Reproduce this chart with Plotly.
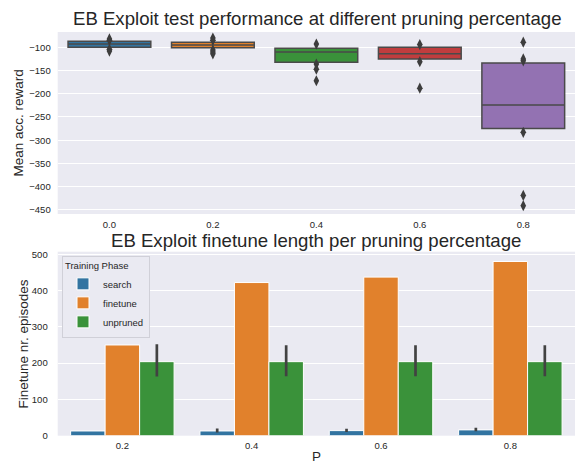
import plotly.graph_objects as go

# ---------------- data ----------------
P_top = ["0.0", "0.2", "0.4", "0.6", "0.8"]
q1 = [-100, -101, -132, -125, -275]
median = [-93, -95, -110, -114, -224]
q3 = [-87, -89, -102, -100, -134]
outliers = [
    [-82, -85, -104, -108],
    [-80, -85, -106, -110, -114],
    [-93, -136, -147, -172],
    [-94, -131, -188],
    [-89, -125, -129, -283, -419, -441],
]
box_colors = ["#3274A1", "#E1812C", "#3A923A", "#C03D3E", "#9372B2"]

P_bot = ["0.2", "0.4", "0.6", "0.8"]
phases = ["search", "finetune", "unpruned"]
search = [13, 13, 14, 16]
search_err_plus = [0, 7, 5, 6]
search_err_minus = [0, 4, 4, 4]
finetune = [250, 422, 437, 480]
unpruned = [204, 204, 204, 204]
unpruned_err_plus = [48, 45, 45, 45]
unpruned_err_minus = [41, 40, 40, 40]
bar_colors = ["#3274A1", "#E1812C", "#3A923A"]

FONT = "Liberation Sans, Arial, sans-serif"
BG = "#EAEAF2"
EDGE = "#4a4a4a"
TXT = "#262626"

fig = go.Figure()

# ---------------- top: boxen-like boxes ----------------
for i, cat in enumerate(P_top):
    fig.add_trace(go.Box(
        x=[cat], q1=[q1[i]], median=[median[i]], q3=[q3[i]],
        lowerfence=[q1[i]], upperfence=[q3[i]],
        fillcolor=box_colors[i], line=dict(color=EDGE, width=1.5),
        whiskerwidth=0, width=0.8, boxpoints=False,
        xaxis="x", yaxis="y", showlegend=False, hoverinfo="skip",
    ))
    fig.add_trace(go.Scatter(
        x=[cat] * len(outliers[i]), y=outliers[i], mode="markers",
        marker=dict(symbol="diamond-tall", size=8, color="#3d3d3d"),
        xaxis="x", yaxis="y", showlegend=False, hoverinfo="skip",
    ))

# ---------------- bottom: grouped bars ----------------
fig.add_trace(go.Bar(
    x=P_bot, y=search, name=phases[0], marker=dict(color=bar_colors[0], line=dict(color="white", width=1)),
    error_y=dict(type="data", symmetric=False, array=search_err_plus, arrayminus=search_err_minus,
                 color="#424242", thickness=2.7, width=0),
    xaxis="x2", yaxis="y2",
))
fig.add_trace(go.Bar(
    x=P_bot, y=finetune, name=phases[1], marker=dict(color=bar_colors[1], line=dict(color="white", width=1)),
    xaxis="x2", yaxis="y2",
))
fig.add_trace(go.Bar(
    x=P_bot, y=unpruned, name=phases[2], marker=dict(color=bar_colors[2], line=dict(color="white", width=1)),
    error_y=dict(type="data", symmetric=False, array=unpruned_err_plus, arrayminus=unpruned_err_minus,
                 color="#424242", thickness=2.7, width=0),
    xaxis="x2", yaxis="y2",
))

W, H = 575, 465
xd = [57.7 / W, 1.0]
axis_common = dict(showline=False, zeroline=False, ticks="", gridcolor="white", gridwidth=1.2,
                   automargin=False, tickfont=dict(family=FONT, size=9.5, color=TXT))

fig.update_layout(
    width=W, height=H, margin=dict(l=0, r=0, t=0, b=0),
    paper_bgcolor="white", plot_bgcolor=BG,
    font=dict(family=FONT, color=TXT),
    barmode="group", bargap=0.2, bargroupgap=0,
    xaxis=dict(domain=xd, anchor="y", type="category", categoryorder="array", categoryarray=P_top,
               range=[-0.5, 4.5], showgrid=False, ticklabelstandoff=3, **axis_common),
    yaxis=dict(domain=[1 - 214 / H, 1 - 32 / H], anchor="x", range=[-459, -67],
               tickvals=[-100, -150, -200, -250, -300, -350, -400, -450], ticklabelstandoff=6,
               **axis_common),
    xaxis2=dict(domain=xd, anchor="y2", type="category", categoryorder="array", categoryarray=P_bot,
                range=[-0.5, 3.5], showgrid=False, ticklabelstandoff=3, **axis_common),
    yaxis2=dict(domain=[1 - 435.7 / H, 1 - 251.7 / H], anchor="x2", range=[0, 507],
                tickvals=[0, 100, 200, 300, 400, 500], ticklabelstandoff=9, **axis_common),
    legend=dict(x=62 / W, y=1 - 256 / H, xanchor="left", yanchor="top",
                bgcolor=BG, bordercolor="#d0d0d8", borderwidth=1,
                font=dict(family=FONT, size=9.5, color=TXT),
                title=dict(text="Training Phase", font=dict(family=FONT, size=9.5, color=TXT)),
                itemwidth=30, tracegroupgap=0),
    annotations=[
        dict(text="EB Exploit test performance at different pruning percentage", x=317 / W, y=1 - 18.5 / H,
             xref="paper", yref="paper", xanchor="center", yanchor="middle", showarrow=False,
             font=dict(family=FONT, size=18.6, color=TXT)),
        dict(text="EB Exploit finetune length per pruning percentage", x=316 / W, y=1 - 240 / H,
             xref="paper", yref="paper", xanchor="center", yanchor="middle", showarrow=False,
             font=dict(family=FONT, size=18.6, color=TXT)),
        dict(text="Mean acc. reward", x=17.5 / W, y=1 - 123 / H, textangle=-90,
             xref="paper", yref="paper", xanchor="center", yanchor="middle", showarrow=False,
             font=dict(family=FONT, size=13.5, color=TXT)),
        dict(text="Finetune nr. episodes", x=22.5 / W, y=1 - 344 / H, textangle=-90,
             xref="paper", yref="paper", xanchor="center", yanchor="middle", showarrow=False,
             font=dict(family=FONT, size=13.5, color=TXT)),
        dict(text="P", x=316 / W, y=1 - 456 / H,
             xref="paper", yref="paper", xanchor="center", yanchor="middle", showarrow=False,
             font=dict(family=FONT, size=13.5, color=TXT)),
    ],
)

fig.write_html("out.html", config={"displayModeBar": False},
               post_script="document.body.style.margin='0';document.body.style.overflow='hidden';")
